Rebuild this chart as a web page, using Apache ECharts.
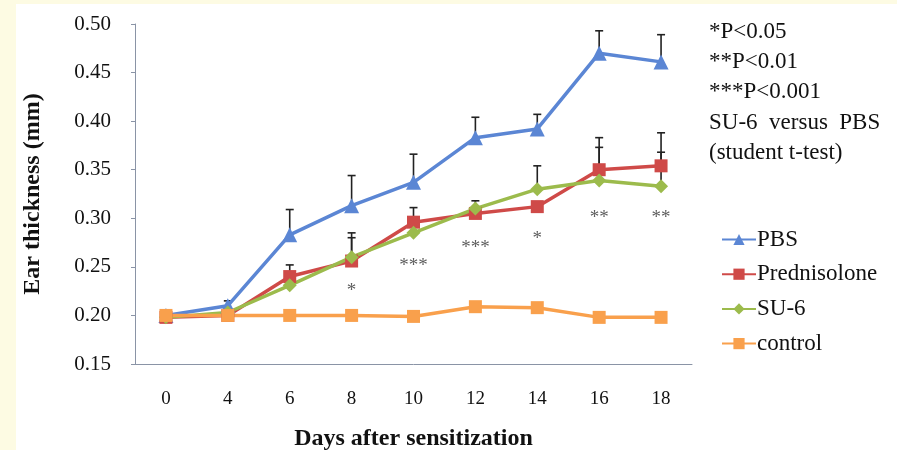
<!DOCTYPE html>
<html>
<head>
<meta charset="utf-8">
<script src="https://cdn.jsdelivr.net/npm/echarts@6/dist/echarts.min.js"></script>
<style>
  html, body { margin: 0; padding: 0; background: #fff; }
  #chart { width: 897px; height: 450px; }
</style>
</head>
<body>
<div id="chart"></div>
<script>
// days after sensitization
const days = ['0', '4', '6', '8', '10', '12', '14', '16', '18']

// ear thickness (mm)
const pbs = [0.200, 0.210, 0.283, 0.313, 0.337, 0.383, 0.392, 0.470, 0.461]
const prednisolone = [0.198, 0.200, 0.240, 0.256, 0.296, 0.305, 0.312, 0.350, 0.354]
const su6 = [0.198, 0.203, 0.231, 0.260, 0.285, 0.310, 0.330, 0.339, 0.333]
const control = [0.200, 0.200, 0.200, 0.200, 0.199, 0.209, 0.208, 0.198, 0.198]

// top of error bars (null = none drawn)
const pbsErr = [null, 0.215, 0.309, 0.344, 0.366, 0.404, 0.407, 0.493, 0.489]
const prednisoloneErr = [null, null, 0.252, 0.280, 0.311, 0.318, null, 0.383, 0.388]
const su6Err = [null, null, null, 0.285, null, null, 0.354, 0.373, 0.368]

// significance marks (SU-6 vs PBS)
const stars = ['', '', '', '*', '***', '***', '*', '**', '**']
const starY = [null, null, null, 0.229, 0.255, 0.274, 0.283, 0.304, 0.304]

const yTicks = { min: 0.15, max: 0.5, interval: 0.05 }

const notes = ['*P<0.05', '**P<0.01', '***P<0.001', 'SU-6  versus  PBS', '(student t-test)']

const serif = '"Liberation Serif", "DejaVu Serif", serif'

function errSeries(name, means, tops) {
  let data = []
  means.forEach((m, i) => {
    if (tops[i] != null) {
      data.push([i, m, tops[i]])
    }
  })
  return {
    name: name + '-err',
    type: 'custom',
    silent: true,
    z: 1,
    renderItem: function (params, api) {
      let x = api.coord([api.value(0), api.value(1)])[0]
      let y0 = api.coord([api.value(0), api.value(1)])[1]
      let y1 = api.coord([api.value(0), api.value(2)])[1]
      let style = { stroke: '#222', lineWidth: 1.6 }
      return {
        type: 'group',
        children: [
          { type: 'line', shape: { x1: x, y1: y0, x2: x, y2: y1 }, style },
          { type: 'line', shape: { x1: x - 4, y1: y1, x2: x + 4, y2: y1 }, style }
        ]
      }
    },
    data
  }
}

function lineSeries(name, data, color, symbol, size) {
  return {
    name,
    type: 'line',
    data,
    symbol,
    symbolSize: size,
    z: 3,
    lineStyle: { color, width: 3.5 },
    itemStyle: { color }
  }
}

const chart = echarts.init(document.getElementById('chart'))

const options = {
  backgroundColor: '#fff',
  animation: false,
  graphic: [
    { type: 'rect', left: 0, top: 0, shape: { width: 16, height: 450 }, style: { fill: '#fdfbe3' }, z: -10 },
    { type: 'rect', left: 0, top: 0, shape: { width: 897, height: 4 }, style: { fill: '#fdfbe3' }, z: -10 }
  ].concat(notes.map((t, i) => ({
    type: 'text',
    left: 709,
    top: 20 + i * 30.4,
    style: { text: t, font: '23px ' + serif, fill: '#111' }
  }))),
  legend: {
    orient: 'vertical',
    left: 716,
    top: 223,
    itemWidth: 34,
    itemHeight: 14,
    itemGap: 11.7,
    data: ['PBS', 'Prednisolone', 'SU-6', 'control'],
    textStyle: { fontFamily: serif, fontSize: 23, lineHeight: 23, color: '#111', padding: [0, 0, 0, -4] }
  },
  grid: { left: 135, right: 205, top: 24, bottom: 86, outerBoundsMode: 'none', containLabel: false },
  xAxis: {
    type: 'category',
    data: days,
    boundaryGap: true,
    name: 'Days after sensitization',
    nameLocation: 'middle',
    nameGap: 63,
    nameTextStyle: { fontFamily: serif, fontSize: 24, fontWeight: 'bold', color: '#111' },
    axisLine: { lineStyle: { color: '#8a94a6', width: 1 } },
    axisTick: { alignWithLabel: true, length: 4, lineStyle: { color: '#8a94a6' } },
    axisLabel: { margin: 26, fontFamily: serif, fontSize: 19, color: '#111' }
  },
  yAxis: {
    type: 'value',
    min: yTicks.min,
    max: yTicks.max,
    interval: yTicks.interval,
    name: 'Ear thickness (mm)',
    nameLocation: 'middle',
    nameGap: 90,
    nameTextStyle: { fontFamily: serif, fontSize: 24, fontWeight: 'bold', color: '#111' },
    splitLine: { show: false },
    axisLine: { show: true, lineStyle: { color: '#8a94a6', width: 1 } },
    axisTick: { show: true, length: 4, lineStyle: { color: '#8a94a6' } },
    axisLabel: {
      margin: 24,
      fontFamily: serif,
      fontSize: 21,
      color: '#111',
      formatter: v => v.toFixed(2)
    }
  },
  series: [
    errSeries('PBS', pbs, pbsErr),
    errSeries('Prednisolone', prednisolone, prednisoloneErr),
    errSeries('SU-6', su6, su6Err),
    lineSeries('PBS', pbs, '#5b86d4', 'triangle', 15),
    lineSeries('Prednisolone', prednisolone, '#cf4a48', 'rect', 13),
    lineSeries('SU-6', su6, '#9cbb4c', 'diamond', 14),
    lineSeries('control', control, '#f9a04c', 'rect', 13),
    {
      name: 'stars',
      type: 'scatter',
      symbolSize: 0,
      silent: true,
      data: starY.map((v, i) => [i, v]).filter(d => d[1] != null),
      label: {
        show: true,
        position: 'inside',
        offset: [0, 4],
        formatter: p => stars[p.data[0]],
        fontFamily: serif,
        fontSize: 19,
        color: '#333'
      }
    }
  ]
}

chart.setOption(options, true)
</script>
</body>
</html>
